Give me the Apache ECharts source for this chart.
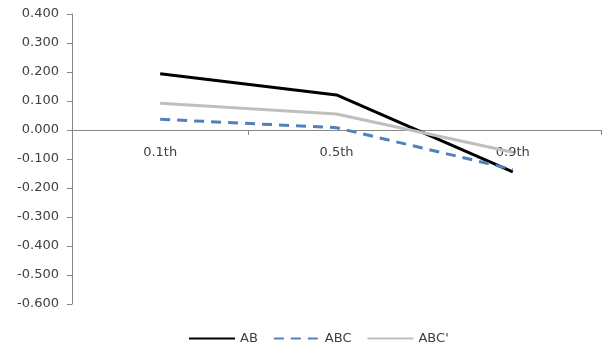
<!DOCTYPE html>
<html>
<head>
<meta charset="utf-8">
<script src="https://cdn.jsdelivr.net/npm/echarts@6/dist/echarts.min.js"></script>
<style>
  html, body { margin: 0; padding: 0; background: #fff; }
  #chart { width: 614px; height: 360px; }
</style>
</head>
<body>
<div id="chart"></div>
<script>
// Quantile categories and series values
const categories = ['0.1th', '0.5th', '0.9th'];
const seriesAB = [0.194, 0.121, -0.144];
const seriesABC = [0.037, 0.008, -0.136];
const seriesABCp = [0.092, 0.055, -0.077];
const yTicks = { min: -0.6, max: 0.4, step: 0.1 };

const labelFont = { color: '#404040', fontSize: 13, fontFamily: '"DejaVu Sans", sans-serif' };

const gridTop = 14, gridBottom = 56, chartHeight = 360;
const plotHeight = chartHeight - gridTop - gridBottom;
// lift the category axis (line, ticks and labels) up to the zero line
const zeroOffset = -plotHeight * (0 - yTicks.min) / (yTicks.max - yTicks.min);

const chart = echarts.init(document.getElementById('chart'), null, { renderer: 'canvas' });
chart.setOption({
  animation: false,
  backgroundColor: '#ffffff',
  grid: { left: 72, right: 13, top: gridTop, bottom: gridBottom, containLabel: false },
  xAxis: {
    type: 'category',
    data: categories,
    boundaryGap: true,
    position: 'bottom',
    offset: zeroOffset,
    axisLine: { onZero: false, lineStyle: { color: '#868686', width: 1 } },
    axisTick: { show: true, length: 5, lineStyle: { color: '#868686' } },
    axisLabel: Object.assign({ margin: 16 }, labelFont),
    splitLine: { show: false }
  },
  yAxis: {
    type: 'value',
    min: yTicks.min,
    max: yTicks.max,
    interval: yTicks.step,
    axisLine: { show: true, lineStyle: { color: '#868686', width: 1 } },
    axisTick: { show: true, length: 5, lineStyle: { color: '#868686' } },
    axisLabel: Object.assign({ margin: 13, formatter: v => v.toFixed(3) }, labelFont),
    splitLine: { show: false }
  },
  legend: {
    bottom: 10,
    left: 183,
    itemWidth: 46,
    itemHeight: 10,
    itemGap: 15,
    itemStyle: { opacity: 0 },
    textStyle: labelFont,
    data: ['AB', 'ABC', "ABC'"]
  },
  series: [
    {
      name: 'AB', type: 'line', data: seriesAB,
      symbol: 'none', lineStyle: { color: '#000000', width: 3 },
      itemStyle: { color: '#000000' }
    },
    {
      name: 'ABC', type: 'line', data: seriesABC,
      symbol: 'none', lineStyle: { color: '#4f81bd', width: 3, type: [10, 7] },
      itemStyle: { color: '#4f81bd' }
    },
    {
      name: "ABC'", type: 'line', data: seriesABCp,
      symbol: 'none', lineStyle: { color: '#bfbfbf', width: 3 },
      itemStyle: { color: '#bfbfbf' }
    }
  ]
});
</script>
</body>
</html>
